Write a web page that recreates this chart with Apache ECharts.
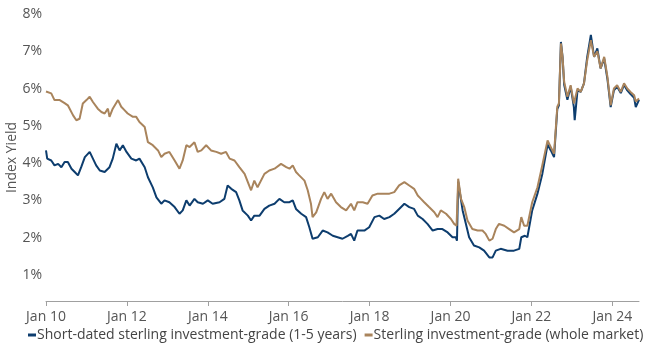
<!DOCTYPE html>
<html>
<head>
<meta charset="utf-8">
<script src="https://cdn.jsdelivr.net/npm/echarts@6/dist/echarts.min.js"></script>
<style>html,body{margin:0;padding:0;background:#fff}#c{width:650px;height:350px}</style>
</head>
<body>
<div id="c"></div>
<script>
// Dates as decimal years
const shortDates = [2010.00,2010.03,2010.13,2010.21,2010.30,2010.38,2010.46,2010.54,2010.63,2010.71,2010.79,2010.87,2010.96,2011.08,2011.16,2011.24,2011.33,2011.45,2011.57,2011.65,2011.74,2011.82,2011.90,2011.99,2012.11,2012.23,2012.31,2012.44,2012.52,2012.64,2012.73,2012.85,2012.93,2013.05,2013.18,2013.30,2013.38,2013.47,2013.55,2013.67,2013.75,2013.88,2014.00,2014.12,2014.29,2014.41,2014.49,2014.58,2014.70,2014.78,2014.86,2014.99,2015.07,2015.15,2015.28,2015.40,2015.52,2015.65,2015.77,2015.89,2016.02,2016.10,2016.18,2016.31,2016.43,2016.51,2016.59,2016.72,2016.84,2016.96,2017.09,2017.21,2017.33,2017.46,2017.54,2017.62,2017.70,2017.87,2017.99,2018.12,2018.24,2018.36,2018.49,2018.61,2018.73,2018.86,2018.98,2019.10,2019.19,2019.31,2019.43,2019.56,2019.68,2019.80,2019.93,2020.05,2020.13,2020.16,2020.19,2020.30,2020.38,2020.46,2020.58,2020.71,2020.83,2020.96,2021.04,2021.12,2021.24,2021.41,2021.57,2021.70,2021.75,2021.84,2021.90,2022.02,2022.15,2022.27,2022.40,2022.48,2022.56,2022.64,2022.68,2022.73,2022.77,2022.81,2022.89,2022.97,2023.05,2023.07,2023.14,2023.22,2023.30,2023.38,2023.47,2023.55,2023.63,2023.71,2023.80,2023.88,2023.96,2024.04,2024.12,2024.21,2024.29,2024.37,2024.45,2024.54,2024.58,2024.66];
const shortYield = [4.34,4.12,4.07,3.94,3.98,3.89,4.03,4.03,3.85,3.76,3.67,3.89,4.16,4.30,4.12,3.94,3.80,3.76,3.89,4.12,4.52,4.34,4.48,4.30,4.12,4.07,4.12,3.89,3.62,3.35,3.08,2.91,3.00,2.95,2.82,2.64,2.73,3.00,2.86,3.04,2.95,2.91,3.00,2.91,2.95,3.04,3.40,3.31,3.22,3.00,2.73,2.59,2.46,2.59,2.59,2.77,2.86,2.91,3.04,2.95,2.95,3.00,2.77,2.64,2.55,2.28,1.97,2.01,2.19,2.14,2.05,2.01,1.97,2.05,2.10,1.92,2.19,2.19,2.28,2.55,2.59,2.50,2.55,2.64,2.77,2.91,2.82,2.77,2.59,2.50,2.37,2.19,2.23,2.23,2.14,2.01,2.01,1.92,3.50,2.73,2.37,2.01,1.79,1.74,1.65,1.47,1.47,1.65,1.70,1.65,1.65,1.70,2.01,2.05,2.01,2.73,3.18,3.71,4.50,4.34,4.16,5.45,5.55,7.25,6.85,6.10,5.70,6.05,5.50,5.15,5.95,5.91,6.14,6.85,7.44,6.85,7.08,6.54,6.80,6.25,5.50,5.95,6.05,5.88,6.10,5.95,5.85,5.75,5.50,5.70];

const wholeDates = [2010.00,2010.13,2010.21,2010.34,2010.46,2010.54,2010.67,2010.75,2010.83,2010.91,2011.00,2011.08,2011.16,2011.28,2011.37,2011.45,2011.53,2011.57,2011.65,2011.78,2011.86,2011.94,2012.02,2012.15,2012.23,2012.31,2012.44,2012.52,2012.64,2012.77,2012.85,2012.93,2013.05,2013.18,2013.30,2013.38,2013.47,2013.55,2013.67,2013.75,2013.84,2013.96,2014.08,2014.21,2014.33,2014.45,2014.54,2014.66,2014.78,2014.91,2014.99,2015.07,2015.15,2015.23,2015.40,2015.52,2015.65,2015.81,2015.94,2016.02,2016.10,2016.18,2016.26,2016.39,2016.47,2016.55,2016.59,2016.68,2016.80,2016.88,2016.96,2017.05,2017.17,2017.29,2017.42,2017.54,2017.62,2017.70,2017.83,2017.95,2018.07,2018.20,2018.36,2018.49,2018.61,2018.73,2018.86,2018.98,2019.10,2019.19,2019.27,2019.35,2019.47,2019.60,2019.68,2019.76,2019.89,2020.01,2020.09,2020.15,2020.19,2020.26,2020.34,2020.42,2020.54,2020.67,2020.79,2020.87,2020.96,2021.04,2021.12,2021.20,2021.33,2021.45,2021.57,2021.70,2021.75,2021.82,2021.90,2022.02,2022.15,2022.27,2022.40,2022.48,2022.56,2022.64,2022.68,2022.73,2022.77,2022.81,2022.89,2022.97,2023.05,2023.14,2023.22,2023.30,2023.38,2023.47,2023.55,2023.63,2023.71,2023.80,2023.88,2023.96,2024.04,2024.12,2024.21,2024.29,2024.37,2024.45,2024.54,2024.58,2024.66];
const wholeYield = [5.92,5.87,5.69,5.69,5.61,5.55,5.28,5.15,5.19,5.60,5.69,5.78,5.64,5.46,5.37,5.33,5.46,5.24,5.46,5.69,5.51,5.42,5.33,5.24,5.24,5.10,4.97,4.56,4.48,4.34,4.16,4.25,4.30,4.07,3.85,4.07,4.48,4.43,4.56,4.30,4.34,4.48,4.34,4.30,4.25,4.30,4.12,4.07,3.89,3.71,3.49,3.27,3.53,3.35,3.71,3.80,3.85,3.98,3.89,3.85,3.94,3.76,3.67,3.53,3.27,2.91,2.55,2.68,3.04,3.22,3.04,3.18,2.95,2.82,2.73,2.91,2.73,2.95,2.95,2.91,3.13,3.18,3.18,3.18,3.22,3.40,3.49,3.40,3.31,3.13,3.04,2.95,2.82,2.68,2.55,2.73,2.64,2.50,2.37,2.32,3.58,3.04,2.82,2.46,2.23,2.19,2.19,2.10,1.92,1.97,2.23,2.37,2.32,2.23,2.14,2.23,2.55,2.32,2.32,2.95,3.35,3.94,4.61,4.43,4.25,5.51,5.60,7.21,6.85,6.18,5.78,6.09,5.60,6.00,5.91,6.14,6.76,7.30,6.85,7.00,6.54,6.85,6.31,5.55,6.00,6.09,5.91,6.14,6.00,5.91,5.82,5.65,5.73];

const tickYears = [2010,2012,2014,2016,2018,2020,2022,2024];
const yTicks = [1,2,3,4,5,6,7,8];
const seriesNames = ['Short-dated sterling investment-grade (1-5 years)','Sterling investment-grade (whole market)'];

const zip = (d, v) => d.map((x, i) => [x, v[i]]);
const FONT = 'Open Sans';
const chart = echarts.init(document.getElementById('c'), null, {renderer: 'canvas'});
chart.setOption({
  animation: false,
  textStyle: {fontFamily: FONT},
  grid: {left: 46, right: 11, top: 14, bottom: 49, containLabel: false, outerBoundsMode: 'none'},
  legend: {
    left: 23, bottom: 3,
    itemWidth: 8, itemHeight: 3, itemGap: 8,
    icon: 'rect',
    textStyle: {fontSize: 14, color: '#444', fontFamily: FONT, padding: [0,0,0,-4]},
    data: seriesNames
  },
  xAxis: {
    type: 'value', min: 2010, max: 2024.66,
    splitLine: {show: false},
    axisLine: {show: true, lineStyle: {color: '#a0a0a0', width: 1}},
    axisTick: {show: true, length: 5, lineStyle: {color: '#a0a0a0'}, customValues: tickYears},
    axisLabel: {customValues: tickYears, color: '#555', fontSize: 14, margin: 9,
      formatter: v => 'Jan ' + String(Math.round(v)).slice(2)}
  },
  yAxis: {
    type: 'value', min: 0.3, max: 8,
    name: 'Index Yield', nameLocation: 'middle', nameGap: 27, nameRotate: 90,
    nameMoveOverlap: false,
    nameTextStyle: {color: '#555', fontSize: 14, fontFamily: FONT},
    splitLine: {show: false},
    axisLine: {show: false}, axisTick: {show: false},
    axisLabel: {customValues: yTicks, color: '#555', fontSize: 14, margin: 4,
      formatter: v => Math.round(v) + '%'}
  },
  series: [
    {name: seriesNames[0], type: 'line', data: zip(shortDates, shortYield), showSymbol: false,
     lineStyle: {color: '#0d3d6e', width: 2}, itemStyle: {color: '#0d3d6e'}, z: 2},
    {name: seriesNames[1], type: 'line', data: zip(wholeDates, wholeYield), showSymbol: false,
     lineStyle: {color: '#a9845c', width: 2}, itemStyle: {color: '#a9845c'}, z: 3}
  ]
});
</script>
</body>
</html>
